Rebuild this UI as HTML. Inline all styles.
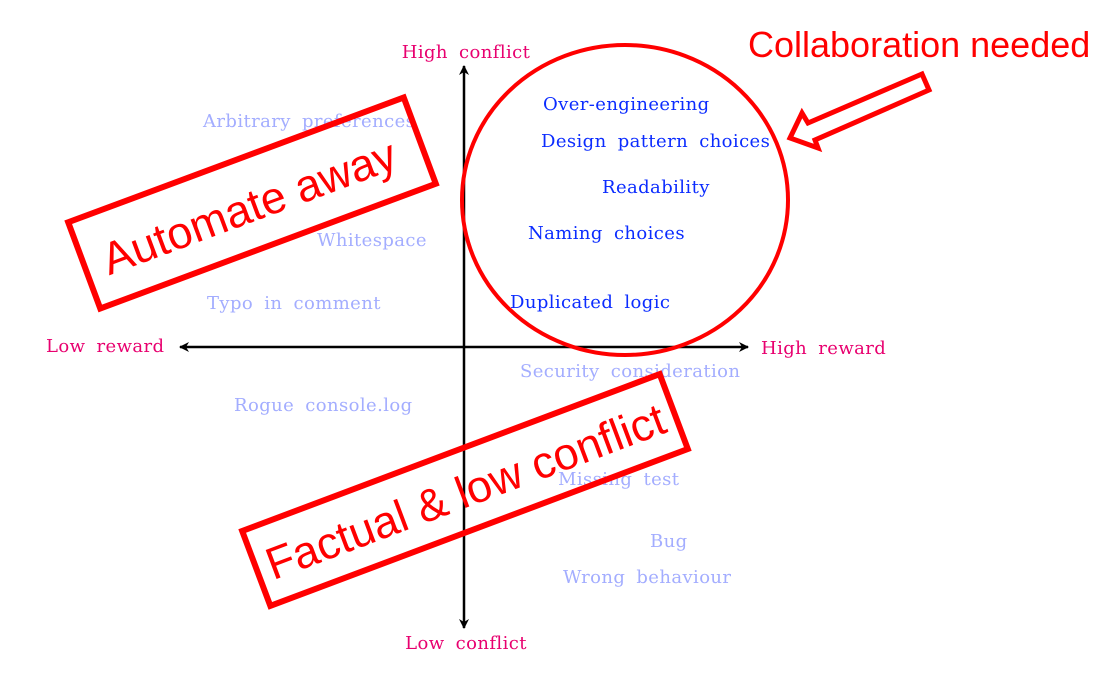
<!DOCTYPE html>
<html><head><meta charset="utf-8"><style>
html,body{margin:0;padding:0;background:#fff;}
svg{display:block;}
.s{font-family:"DejaVu Serif","Liberation Serif",serif;font-size:18px;letter-spacing:0.4px;word-spacing:5px;}
.p{fill:#e8006f;}
.b{fill:#0b2cff;}
.l{fill:#a3adff;}
.r{font-family:"Liberation Sans",sans-serif;fill:#ff0000;}
</style></head><body>
<svg width="1110" height="677" viewBox="0 0 1110 677" xmlns="http://www.w3.org/2000/svg">
<defs><marker id="a" markerWidth="10" markerHeight="10" refX="9" refY="5" orient="auto" markerUnits="userSpaceOnUse"><path d="M0,0 L10,5 L0,10 L3,5 z" fill="#000"/></marker></defs>
<line x1="464" y1="347" x2="464" y2="66" stroke="#000" stroke-width="2.5" marker-end="url(#a)"/>
<line x1="464" y1="347" x2="464" y2="628" stroke="#000" stroke-width="2.5" marker-end="url(#a)"/>
<line x1="464" y1="347" x2="180" y2="347" stroke="#000" stroke-width="2.5" marker-end="url(#a)"/>
<line x1="464" y1="347" x2="748" y2="347" stroke="#000" stroke-width="2.5" marker-end="url(#a)"/>
<g class="s">
<text x="466" y="58" text-anchor="middle" class="p">High conflict</text>
<text x="466" y="649" text-anchor="middle" class="p">Low conflict</text>
<text x="46" y="352" class="p">Low reward</text>
<text x="761" y="354" class="p">High reward</text>
<text x="543" y="110" class="b">Over-engineering</text>
<text x="541" y="147" class="b">Design pattern choices</text>
<text x="602" y="193" class="b">Readability</text>
<text x="528" y="239" class="b">Naming choices</text>
<text x="510" y="308" class="b">Duplicated logic</text>
<text x="203" y="127" class="l">Arbitrary preferences</text>
<text x="317" y="246" class="l">Whitespace</text>
<text x="207" y="309" class="l">Typo in comment</text>
<text x="234" y="411" class="l">Rogue console.log</text>
<text x="520" y="377" class="l">Security consideration</text>
<text x="558" y="485" class="l">Missing test</text>
<text x="650" y="547" class="l">Bug</text>
<text x="563" y="583" class="l">Wrong behaviour</text>
</g>
<ellipse cx="625" cy="200" rx="163" ry="155" fill="none" stroke="#ff0000" stroke-width="4"/>
<g transform="translate(252,203) rotate(-20.4)">
<rect x="-179" y="-46" width="358" height="92" fill="none" stroke="#ff0000" stroke-width="6"/>
<text x="-4" y="18" text-anchor="middle" class="r" font-size="45">Automate away</text>
</g>
<g transform="translate(465,490) rotate(-20.6)">
<rect x="-223" y="-40" width="446" height="80" fill="none" stroke="#ff0000" stroke-width="6"/>
<text x="0" y="17" text-anchor="middle" class="r" font-size="45">Factual &amp; low conflict</text>
</g>
<text x="748" y="57" class="r" font-size="36">Collaboration needed</text>
<polygon points="790,138 802,113 808,123 922,74 929,90 815,140 818,148" fill="none" stroke="#ff0000" stroke-width="5" stroke-linejoin="miter"/>
</svg>
</body></html>
